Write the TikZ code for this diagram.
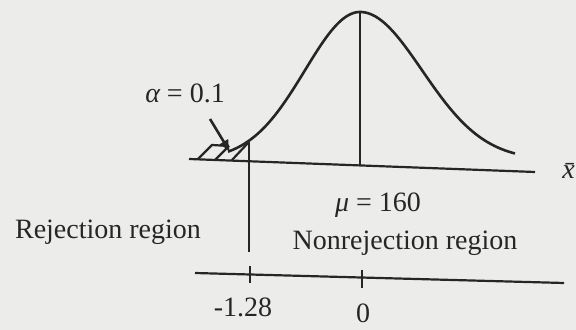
\documentclass[tikz,border=0pt]{standalone}
\usepackage{fontspec}
\setmainfont{Liberation Serif}
\usetikzlibrary{arrows.meta}
\definecolor{ScanGray}{RGB}{236,236,234}
\definecolor{InkBlack}{RGB}{38,38,38}

\begin{document}
\begin{tikzpicture}[
  x=0.5pt,
  y=-0.5pt,
  axis/.style={draw=InkBlack, line width=1.1pt},
  curve/.style={draw=InkBlack, line width=1.3pt},
  hatch/.style={draw=InkBlack, line width=1.1pt},
  label/.style={text=InkBlack, font=\fontsize{14}{16}\selectfont, inner sep=0pt},
  arrow/.style={-{Latex[length=6pt,width=5.5pt]}, draw=InkBlack, line width=1.3pt}
]
\fill[ScanGray] (0,0) rectangle (576,330);
\useasboundingbox (0,0) rectangle (576,330);

% Upper axis and density curve
\coordinate (axL) at (189,159);
\coordinate (axR) at (535,172);
\draw[axis] (axL) -- (axR);
\draw[curve] plot[domain=-2.4:0, samples=60, smooth] ({360+55*\x}, {160-148*exp(-\x*\x/2)});
\draw[curve] plot[domain=0:2.5, samples=60, smooth] ({360+62*\x}, {160-148*exp(-\x*\x/2)});
\node[label] (xbar) at (572,171) {\textit{\={x}}};

% Mean and critical value
\coordinate (peak) at (360,12);
\coordinate (meanfoot) at (360,165);
\draw[axis] (peak) -- (meanfoot);
\coordinate (crit) at (249,142);
\coordinate (critlow) at (249,252);
\draw[axis] (crit) -- (critlow);

% Hatched tail
\coordinate (h1a) at (198,159); \coordinate (h1b) at (212,145);
\coordinate (h2a) at (215,160); \coordinate (h2b) at (229,146);
\coordinate (h3a) at (232,160); \coordinate (h3b) at (248,143);
\draw[hatch] (h1a) -- (h1b) -- (h2b);
\draw[hatch] (h2a) -- (h2b);
\draw[hatch] (h3a) -- (h3b);

% Significance label
\node[label] (alpha) at (185,93) {{\itshape α} = 0.1};
\coordinate (alphatail) at (210,119);
\coordinate (alphatip) at (230,152);
\draw[arrow] (alphatail) -- (alphatip);

% Region labels
\node[label] (mu) at (378,205) {{\itshape μ} = 160};
\node[label] (reject) at (108,232) {Rejection region};
\node[label] (accept) at (405,243) {Nonrejection region};

% Lower axis with z values
\coordinate (lowL) at (195,273);
\coordinate (lowR) at (564,283);
\draw[axis] (lowL) -- (lowR);
\coordinate (tkAtop) at (250,266); \coordinate (tkAbot) at (250,283);
\coordinate (tkBtop) at (362,270); \coordinate (tkBbot) at (362,288);
\draw[axis] (tkAtop) -- (tkAbot);
\draw[axis] (tkBtop) -- (tkBbot);
\node[label] (zcrit) at (243,307) {-1.28};
\node[label] (zzero) at (363,313) {0};
\end{tikzpicture}
\end{document}
